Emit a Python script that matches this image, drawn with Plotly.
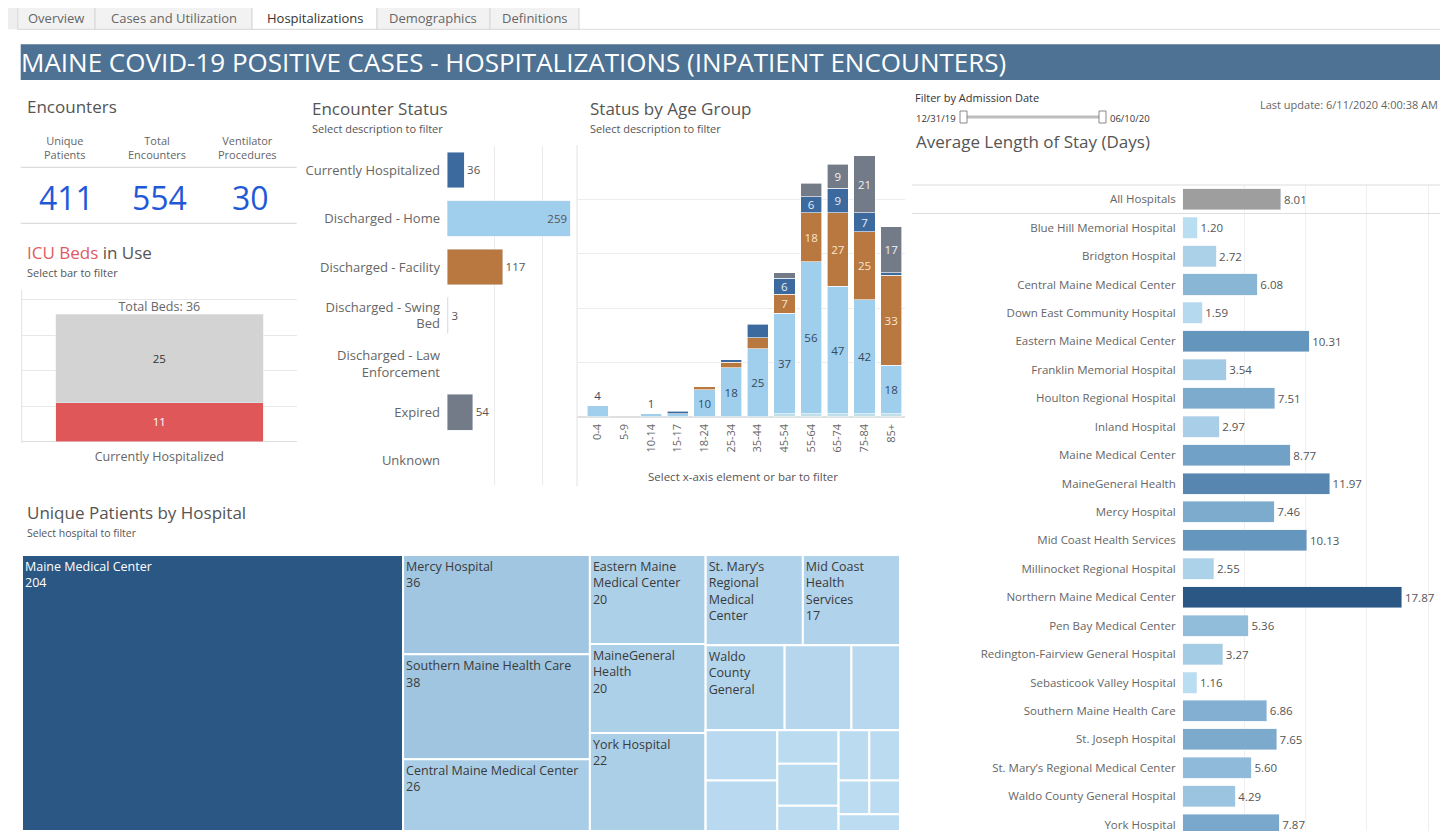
import plotly.graph_objects as go

# ---- data ----
kpi_labels = ["Unique<br>Patients", "Total<br>Encounters", "Ventilator<br>Procedures"]
kpi_values = [411, 554, 30]

icu_category = ["Currently Hospitalized"]
icu_in_use = [11]
icu_available = [25]
icu_total = 36

status_labels = ["Currently Hospitalized", "Discharged - Home", "Discharged - Facility",
                 "Discharged - Swing<br>Bed", "Discharged - Law<br>Enforcement", "Expired", "Unknown"]
status_values = [36, 259, 117, 3, None, 54, None]
status_colors = ["#3d6a9e", "#a0cfee", "#b9783f", "#bde0ea", "#bde0ea", "#737b89", "#cccccc"]

age_groups = ["0-4", "5-9", "10-14", "15-17", "18-24", "25-34", "35-44", "45-54", "55-64", "65-74", "75-84", "85+"]
age_swing = [None, None, None, None, None, None, None, 1, 1, 1, 1, 1]
age_home = [4, None, 1, 1, 10, 18, 25, 37, 56, 47, 42, 18]
age_facility = [None, None, None, None, 1, 2, 4, 7, 18, 27, 25, 33]
age_current = [None, None, None, 1, None, 1, 5, 6, 6, 9, 7, 1]
age_expired = [None, None, None, None, None, None, None, 2, 5, 9, 21, 17]

hospitals = ["Blue Hill Memorial Hospital", "Bridgton Hospital", "Central Maine Medical Center",
             "Down East Community Hospital", "Eastern Maine Medical Center", "Franklin Memorial Hospital",
             "Houlton Regional Hospital", "Inland Hospital", "Maine Medical Center", "MaineGeneral Health",
             "Mercy Hospital", "Mid Coast Health Services", "Millinocket Regional Hospital",
             "Northern Maine Medical Center", "Pen Bay Medical Center", "Redington-Fairview General Hospital",
             "Sebasticook Valley Hospital", "Southern Maine Health Care", "St. Joseph Hospital",
             "St. Mary’s Regional Medical Center", "Waldo County General Hospital", "York Hospital"]
los_days = [1.20, 2.72, 6.08, 1.59, 10.31, 3.54, 7.51, 2.97, 8.77, 11.97, 7.46, 10.13, 2.55,
            17.87, 5.36, 3.27, 1.16, 6.86, 7.65, 5.60, 4.29, 7.87]
all_hospitals_los = 8.01

# treemap: hospitals, patient counts and the block each one sits in
tm_names = ["Maine Medical Center", "Mercy Hospital", "Southern Maine Health Care",
            "Central Maine Medical Center", "Eastern Maine Medical Center", "MaineGeneral Health",
            "York Hospital", "St. Mary’s Regional Medical Center", "Mid Coast Health Services",
            "Waldo County General Hospital", "Pen Bay Medical Center", "Inland Hospital",
            "Franklin Memorial Hospital", "Houlton Regional Hospital", "St. Joseph Hospital",
            "Redington-Fairview General Hospital", "Bridgton Hospital", "Down East Community Hospital",
            "Blue Hill Memorial Hospital", "Sebasticook Valley Hospital", "Millinocket Regional Hospital",
            "Northern Maine Medical Center"]
tm_values = [204, 36, 38, 26, 20, 20, 22, 17, 17, 13, 11, 8, 7, 7, 4, 5, 3, 3, 3, 2, 2, 2]
tm_block = ["", "b2", "b2", "b2", "b3", "b3", "b3", "b4r1", "b4r1", "b4r2", "b4r2", "b4r2",
            "b4c1", "b4c1", "b4c2", "b4c2", "b4c2", "b4q1", "b4q1", "b4q2", "b4q2", "b4q3"]
tm_wrapped = ["Maine Medical Center", "Mercy Hospital", "Southern Maine Health Care",
              "Central Maine Medical Center", "Eastern Maine<br>Medical Center", "MaineGeneral<br>Health",
              "York Hospital", "St. Mary’s<br>Regional<br>Medical<br>Center", "Mid Coast<br>Health<br>Services",
              "Waldo<br>County<br>General"] + [""] * 12
tm_show_value = [True, True, True, True, True, True, True, False, True, False] + [False] * 12
blocks = ["b2", "b3", "b4", "b4r1", "b4r2", "b4r3", "b4c1", "b4c2", "b4c3", "b4q1", "b4q2", "b4q3"]
block_parent = ["", "", "", "b4", "b4", "b4", "b4r3", "b4r3", "b4r3", "b4c3", "b4c3", "b4c3"]

tabs = ["Overview", "Cases and Utilization", "Hospitalizations", "Demographics", "Definitions"]

# ---- geometry helpers (reference pixels -> paper) ----
W, H = 1432, 823
def X(x): return (x - 8) / W
def Y(y): return 1 - (y - 8) / H

FONT = "Open Sans"
GRAY = "#555555"

fig = go.Figure()

# ICU beds
fig.add_trace(go.Bar(x=icu_category, y=icu_in_use, marker_color="#e05759", width=0.753,
                     text=icu_in_use, textposition="inside", insidetextanchor="middle",
                     textfont=dict(color="white", size=12.5), xaxis="x", yaxis="y"))
fig.add_trace(go.Bar(x=icu_category, y=icu_available, marker_color="#d3d3d3", width=0.753,
                     text=icu_available, textposition="inside", insidetextanchor="middle",
                     textfont=dict(color="#333333", size=12.5), xaxis="x", yaxis="y"))
fig.add_trace(go.Scatter(x=icu_category, y=[icu_total], mode="text", text=[f"Total Beds: {icu_total}"],
                         textposition="top center", textfont=dict(size=12.5, color="#666666"),
                         cliponaxis=False, xaxis="x", yaxis="y"))

# Encounter status
st_text = ["" if v is None else str(v) for v in status_values]
st_pos = ["inside" if (v or 0) > 200 else "outside" for v in status_values]
fig.add_trace(go.Bar(y=status_labels, x=status_values, orientation="h", marker_color=status_colors,
                     width=0.74, text=st_text, textposition=st_pos, insidetextanchor="end",
                     textfont=dict(size=12.5, color=GRAY), cliponaxis=False, xaxis="x2", yaxis="y2"))

# Status by age group (stacked)
def seg_text(vals):
    return ["" if (v is None or v < 6) else str(v) for v in vals]

stack_above = [sum(v or 0 for v in col) for col in zip(age_facility, age_current, age_expired)]
home_text = [("" if v is None else str(v)) if (v is not None and v < 6 and stack_above[i] == 0)
             else ("" if (v is None or v < 6) else str(v)) for i, v in enumerate(age_home)]
home_pos = ["outside" if (v is not None and v < 6 and stack_above[i] == 0) else "inside"
            for i, v in enumerate(age_home)]

for vals, color, tcolor, txt, pos in [
    (age_swing, "#bfe0ea", "#333", seg_text(age_swing), "inside"),
    (age_home, "#a0cfee", "#34495e", home_text, home_pos),
    (age_facility, "#b9783f", "#f8e6cf", seg_text(age_facility), "inside"),
    (age_current, "#3d6a9e", "#e3edf7", seg_text(age_current), "inside"),
    (age_expired, "#737b89", "#f2f2f2", seg_text(age_expired), "inside"),
]:
    fig.add_trace(go.Bar(x=age_groups, y=vals, marker=dict(color=color, line=dict(color="white", width=0.6)),
                         width=0.79, text=txt, textposition=pos, insidetextanchor="middle", textangle=0,
                         textfont=dict(size=11.5, color=tcolor), cliponaxis=False,
                         xaxis="x3", yaxis="y3"))

# Average length of stay
fig.add_trace(go.Bar(y=["All Hospitals"], x=[all_hospitals_los], orientation="h", marker_color="#9e9e9e",
                     width=0.74, text=[f"{all_hospitals_los:.2f}"], textposition="outside",
                     textfont=dict(size=11.5, color=GRAY), cliponaxis=False, xaxis="x4", yaxis="y4"))
fig.add_trace(go.Bar(y=hospitals, x=los_days, orientation="h", width=0.74,
                     marker=dict(color=los_days, cmin=min(los_days), cmax=max(los_days),
                                 colorscale=[[0, "#b9ddf1"], [0.5, "#6a9bc3"], [1, "#2a5783"]]),
                     text=[f"{v:.2f}" for v in los_days], textposition="outside",
                     textfont=dict(size=11.5, color=GRAY), cliponaxis=False, xaxis="x4", yaxis="y4"))

# Treemap (blocks are unlabeled containers that reproduce the Tableau tiling)
tm_text = [f"{w}<br>{v}" if s else w for w, v, s in zip(tm_wrapped, tm_values, tm_show_value)]
ids = tm_names + blocks
fig.add_trace(go.Treemap(
    ids=ids, labels=tm_names + [""] * len(blocks), parents=tm_block + block_parent,
    values=tm_values + [0] * len(blocks), sort=False,
    text=tm_text + [""] * len(blocks), texttemplate="%{text}", textposition="top left",
    textfont=dict(family=FONT, size=12.5,
                  color=["white" if v == max(tm_values) else "#3a3a3a" for v in tm_values]
                  + ["#3a3a3a"] * len(blocks)),
    marker=dict(colors=tm_values + [min(tm_values)] * len(blocks),
                colorscale=[[0, "#bcdcf1"], [0.5, "#6a9bc3"], [1, "#2a5783"]],
                cmin=min(tm_values), cmax=max(tm_values), line=dict(color="white", width=2),
                pad=dict(t=0, l=0, r=0, b=0)),
    tiling=dict(packing="slice-dice", pad=0),
    pathbar=dict(visible=False),
    domain=dict(x=[X(22), X(900)], y=[0, Y(555)]),
))

# ---- shapes ----
shapes = []
tab_edges = [17.8, 95, 252, 377, 490, 579]
shapes.append(dict(type="rect", xref="paper", yref="paper", x0=X(8), x1=X(17.8), y0=Y(29.3), y1=Y(7.3),
                   fillcolor="#eeeeee", line=dict(width=0)))
for i in range(len(tabs)):
    sel = tabs[i] == "Hospitalizations"
    shapes.append(dict(type="rect", xref="paper", yref="paper", x0=X(tab_edges[i]), x1=X(tab_edges[i + 1]),
                       y0=Y(29.3), y1=Y(7.3), fillcolor="white" if sel else "#f2f2f2",
                       line=dict(color="#d6d6d6", width=1)))
shapes.append(dict(type="line", xref="paper", yref="paper", x0=X(579), x1=1, y0=Y(29.3), y1=Y(29.3),
                   line=dict(color="#dddddd", width=1)))
shapes.append(dict(type="rect", xref="paper", yref="paper", x0=X(20.7), x1=1, y0=Y(80), y1=Y(44.3),
                   fillcolor="#4d7293", line=dict(width=0)))

def hline(y, x0, x1, color="#d4d4d4"):
    shapes.append(dict(type="line", xref="paper", yref="paper", x0=X(x0), x1=X(x1), y0=Y(y), y1=Y(y),
                       line=dict(color=color, width=1)))

def vline(x, y0, y1, color="#e2e2e2"):
    shapes.append(dict(type="line", xref="paper", yref="paper", x0=X(x), x1=X(x), y0=Y(y0), y1=Y(y1),
                       line=dict(color=color, width=1)))

hline(167.3, 20.7, 296.7)
hline(223.3, 20.7, 296.7)
vline(21.7, 290, 443)
vline(577, 145, 486)
hline(185, 912, 1440, "#dddddd")
hline(213.5, 912, 1440, "#dddddd")

# date slider
shapes.append(dict(type="line", xref="paper", yref="paper", x0=X(966), x1=X(1100), y0=Y(117), y1=Y(117),
                   line=dict(color="#bdbdbd", width=3)))
for hx in (960, 1099):
    shapes.append(dict(type="rect", xref="paper", yref="paper", x0=X(hx), x1=X(hx + 7), y0=Y(123), y1=Y(111),
                       fillcolor="white", line=dict(color="#888888", width=1)))

# ---- annotations ----
anns = []
def ann(text, x, y, size, color=GRAY, xanchor="left", family=FONT, align="left", yanchor="middle"):
    anns.append(dict(text=text, x=X(x), y=Y(y), xref="paper", yref="paper", showarrow=False,
                     xanchor=xanchor, yanchor=yanchor, align=align,
                     font=dict(size=size, color=color, family=family)))

tab_centers = [(tab_edges[i] + tab_edges[i + 1]) / 2 for i in range(len(tabs))]
for t, cx in zip(tabs, tab_centers):
    ann(t, cx, 18.5, 13, "#333333" if t == "Hospitalizations" else "#666666", xanchor="center")

ann("MAINE COVID-19 POSITIVE CASES - HOSPITALIZATIONS (INPATIENT ENCOUNTERS)", 19, 62.5, 26, "white")

ann("Encounters", 25, 106.5, 17)
for lab, cx in zip(kpi_labels, [65, 157, 248]):
    ann(lab, cx, 147.5, 11, "#666666", xanchor="center", align="center")
for val, cx in zip(kpi_values, [66.7, 159, 250.7]):
    ann(str(val), cx, 197, 32, "#1f59d8", xanchor="center")

ann("<span style='color:#e05a5f'>ICU Beds</span> in Use", 25, 252, 17)
ann("Select bar to filter", 25, 272.5, 11)

ann("Encounter Status", 310, 108, 17)
ann("Select description to filter", 310, 128.3, 11)
ann("Status by Age Group", 588, 108, 17)
ann("Select description to filter", 588, 128.3, 11)
ann("Select x-axis element or bar to filter", 743, 476.7, 11.5, xanchor="center")

ann("Filter by Admission Date", 913, 97.3, 11, "#333333")
ann("12/31/19", 914, 118, 9.5, "#333333")
ann("06/10/20", 1108, 118, 9.5, "#333333")
ann("Last update: 6/11/2020 4:00:38 AM", 1440, 105, 11, "#666666", xanchor="right")
ann("Average Length of Stay (Days)", 914, 142, 17)

ann("Unique Patients by Hospital", 25, 513, 17)
ann("Select hospital to filter", 25, 533, 10.5)

# ---- layout ----
fig.update_layout(
    width=W, height=H, margin=dict(l=0, r=0, t=0, b=0, pad=0),
    paper_bgcolor="white", plot_bgcolor="white", showlegend=False, barmode="stack",
    font=dict(family=FONT, color=GRAY),
    uniformtext=dict(minsize=11, mode="show"),
    shapes=shapes, annotations=anns,
    xaxis=dict(domain=[X(21.7), X(297)], anchor="y", type="category", showgrid=False, zeroline=False,
               ticks="", tickfont=dict(size=12.5, color="#666666"), ticklabelstandoff=6),
    yaxis=dict(domain=[Y(441.7), Y(290)], anchor="x", range=[0, 42.8], dtick=10, showticklabels=False,
               gridcolor="#e8e8e8", zeroline=True, zerolinecolor="#dcdcdc", zerolinewidth=1),
    xaxis2=dict(domain=[X(447), X(572)], anchor="y2", range=[0, 263], dtick=100, showticklabels=False,
                gridcolor="#ebebeb", zeroline=False),
    yaxis2=dict(domain=[Y(485), Y(145.8)], anchor="x2", type="category", categoryorder="array",
                categoryarray=status_labels, range=[6.5, -0.5], showgrid=False, ticks="",
                tickfont=dict(size=13, color="#666666"), ticklabelstandoff=6),
    xaxis3=dict(domain=[X(577), X(904.5)], anchor="y3", type="category", range=[-0.78, 11.5],
                tickangle=-90, tickfont=dict(size=11, color="#666666"), ticks="", showgrid=False,
                ticklabelstandoff=4),
    yaxis3=dict(domain=[Y(416.7), Y(145)], anchor="x3", range=[0, 100], dtick=20, showticklabels=False,
                gridcolor="#ececec", zeroline=True, zerolinecolor="#e0e0e0"),
    xaxis4=dict(domain=[X(1182.7), 1], anchor="y4", range=[0, 20.97], dtick=5, showticklabels=False,
                gridcolor="#efefef", zeroline=False),
    yaxis4=dict(domain=[0, Y(185)], anchor="x4", type="category", categoryorder="array",
                categoryarray=["All Hospitals"] + hospitals, range=[(831 - 185) / 28.43 - 0.5, -0.5],
                tickfont=dict(size=11.5, color="#666666"), ticks="", showgrid=False, ticklabelstandoff=6),
)

fig.write_html("out.html", config={"displayModeBar": False})
